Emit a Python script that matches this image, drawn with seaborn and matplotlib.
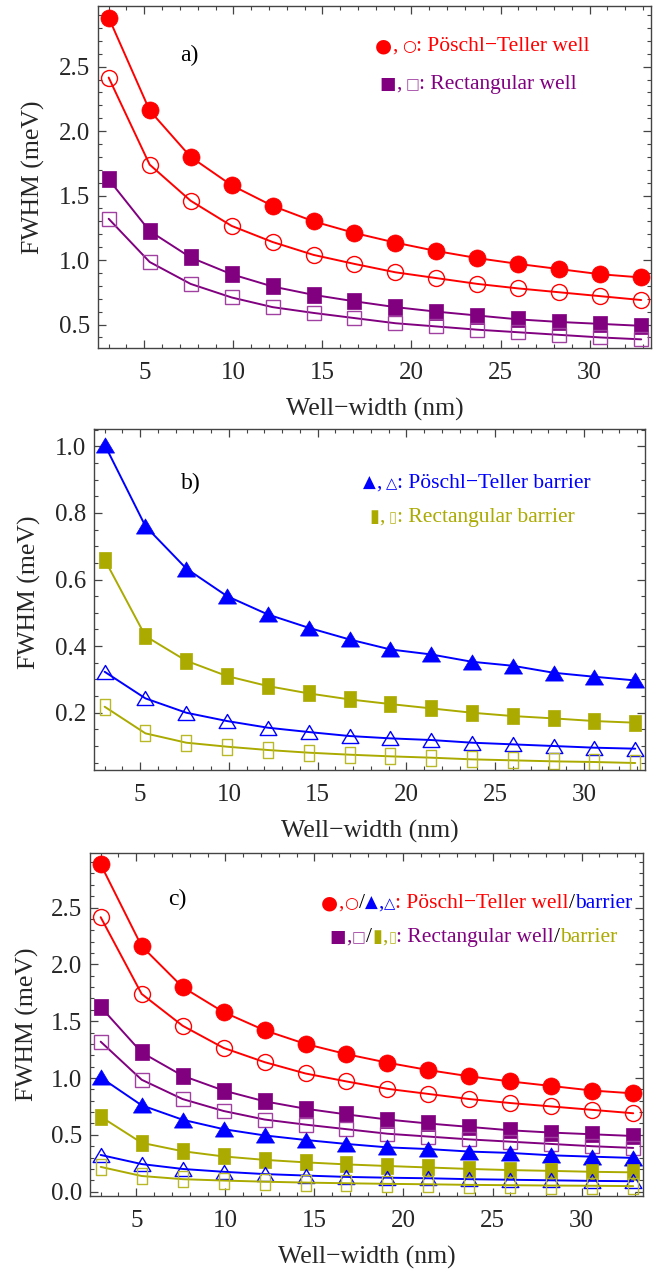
import numpy as np
import pandas as pd
import matplotlib
matplotlib.use("Agg")
import matplotlib.pyplot as plt
import seaborn as sns
from matplotlib.ticker import MultipleLocator, FixedLocator, FormatStrFormatter
from matplotlib.path import Path

# ---------------- data ----------------
well_width = [3.0, 5.3, 7.6, 9.9, 12.2, 14.5, 16.8, 19.1, 21.4, 23.7, 26.0, 28.3, 30.6, 32.9]

pt_well_filled = [2.88, 2.16, 1.80, 1.58, 1.42, 1.30, 1.21, 1.135, 1.07, 1.015, 0.97, 0.93, 0.89, 0.865]
pt_well_open = [2.415, 1.74, 1.46, 1.265, 1.14, 1.04, 0.97, 0.905, 0.86, 0.815, 0.78, 0.75, 0.72, 0.69]
rect_well_filled = [1.625, 1.225, 1.02, 0.89, 0.795, 0.73, 0.68, 0.635, 0.60, 0.57, 0.54, 0.52, 0.505, 0.49]
rect_well_open = [1.32, 0.985, 0.815, 0.71, 0.635, 0.59, 0.55, 0.51, 0.485, 0.46, 0.44, 0.42, 0.40, 0.385]

pt_barrier_filled = [1.005, 0.76, 0.633, 0.55, 0.495, 0.455, 0.42, 0.39, 0.375, 0.353, 0.341, 0.32, 0.308, 0.297]
pt_barrier_open = [0.323, 0.243, 0.20, 0.175, 0.155, 0.142, 0.13, 0.123, 0.118, 0.11, 0.105, 0.10, 0.095, 0.092]
rect_barrier_filled = [0.66, 0.43, 0.356, 0.31, 0.28, 0.258, 0.24, 0.226, 0.213, 0.20, 0.19, 0.183, 0.175, 0.17]
rect_barrier_open = [0.218, 0.138, 0.11, 0.098, 0.088, 0.08, 0.074, 0.069, 0.065, 0.06, 0.057, 0.054, 0.052, 0.049]

xticks = [5, 10, 15, 20, 25, 30]
yticks_a = [0.5, 1.0, 1.5, 2.0, 2.5]
yticks_b = [0.2, 0.4, 0.6, 0.8, 1.0]
yticks_c = [0.0, 0.5, 1.0, 1.5, 2.0, 2.5]

xlabel = "Well\u2212width (nm)"
ylabel = "FWHM (meV)"

# ---------------- style ----------------
sns.set_theme(style="ticks")
FAM = ["Liberation Serif", "DejaVu Sans"]
plt.rcParams["font.family"] = FAM

RED = "#FF0000"
PURPLE = "#800080"
LPURPLE = "#A040A0"
BLUE = "#0000FF"
OLIVE = "#AAAA00"
LOLIVE = "#B8B828"
SPINE = "#444444"

W, H = 671, 1277
fig = plt.figure(figsize=(W / 100, H / 100), dpi=100)


def px_rect(l, r, t, b):
    return [l / W, 1 - b / H, (r - l) / W, (b - t) / H]


ax_a = fig.add_axes(px_rect(98, 651, 6, 348))
ax_b = fig.add_axes(px_rect(94, 645, 429, 770))
ax_c = fig.add_axes(px_rect(90, 643, 853, 1196))


def closed(verts):
    return Path(verts + [verts[0]], closed=True)


TRI = closed([(0, 0.42), (-0.5, -0.42), (0.5, -0.42)])
SQP = closed([(-0.44, -0.5), (0.44, -0.5), (0.44, 0.5), (-0.44, 0.5)])
RECT_F = closed([(-0.35, -0.5), (0.35, -0.5), (0.35, 0.5), (-0.35, 0.5)])
RECT_O = closed([(-0.31, -0.5), (0.31, -0.5), (0.31, 0.5), (-0.31, 0.5)])

series_style = {
    "pt_well_filled": dict(lc=RED, m="o", ms=12.3, fc=RED, ec=RED, mew=0.5),
    "pt_well_open": dict(lc=RED, m="o", ms=11.5, fc="none", ec=RED, mew=1.0),
    "rect_well_filled": dict(lc=PURPLE, m=SQP, ms=11.2, fc=PURPLE, ec=PURPLE, mew=0.5),
    "rect_well_open": dict(lc=PURPLE, m="s", ms=9.5, fc="none", ec=LPURPLE, mew=1.0),
    "pt_barrier_filled": dict(lc=BLUE, m=TRI, ms=13, fc=BLUE, ec=BLUE, mew=0.5),
    "pt_barrier_open": dict(lc=BLUE, m=TRI, ms=12, fc="none", ec=BLUE, mew=1.0),
    "rect_barrier_filled": dict(lc=OLIVE, m=RECT_F, ms=12.2, fc=OLIVE, ec=OLIVE, mew=0.5),
    "rect_barrier_open": dict(lc=OLIVE, m=RECT_O, ms=11.5, fc="none", ec=LOLIVE, mew=1.0),
}
series_data = {
    "pt_well_filled": pt_well_filled,
    "pt_well_open": pt_well_open,
    "rect_well_filled": rect_well_filled,
    "rect_well_open": rect_well_open,
    "pt_barrier_filled": pt_barrier_filled,
    "pt_barrier_open": pt_barrier_open,
    "rect_barrier_filled": rect_barrier_filled,
    "rect_barrier_open": rect_barrier_open,
}


def draw_series(ax, name):
    st = series_style[name]
    df = pd.DataFrame({"x": well_width, "y": series_data[name]})
    sns.lineplot(data=df, x="x", y="y", ax=ax, color=st["lc"], linewidth=1.4,
                 marker=st["m"], markersize=st["ms"], markerfacecolor=st["fc"],
                 markeredgecolor=st["ec"], markeredgewidth=st["mew"],
                 errorbar=None, sort=False)


def style_axes(ax, yticks, yminor, ylim):
    ax.set_xlim(2.4, 33.45)
    ax.set_ylim(*ylim)
    ax.xaxis.set_major_locator(FixedLocator(xticks))
    ax.xaxis.set_minor_locator(MultipleLocator(1))
    ax.yaxis.set_major_locator(FixedLocator(yticks))
    ax.yaxis.set_minor_locator(MultipleLocator(yminor))
    ax.yaxis.set_major_formatter(FormatStrFormatter("%.1f"))
    ax.xaxis.set_major_formatter(FormatStrFormatter("%d"))
    for sp in ax.spines.values():
        sp.set_visible(True)
        sp.set_color(SPINE)
        sp.set_linewidth(1.0)
    ax.tick_params(which="both", direction="in", top=True, right=True, color=SPINE)
    ax.tick_params(which="major", length=6, width=0.9)
    ax.tick_params(which="minor", length=3, width=0.8)
    ax.tick_params(axis="x", which="major", labelsize=18, pad=10)
    ax.tick_params(axis="y", which="major", labelsize=18, pad=5.5)
    ax.set_xlabel(xlabel, fontsize=18.5)
    ax.set_ylabel(ylabel, fontsize=18.5)
    ax.xaxis.label.set_va("center")
    ax.yaxis.label.set_va("center")
    ax.xaxis.set_label_coords(0.5, -0.18)
    ax.yaxis.set_label_coords(-0.117, 0.5)
    ax.grid(False)
    ax.set_facecolor("white")


# panel a
for n in ["pt_well_filled", "pt_well_open", "rect_well_filled", "rect_well_open"]:
    draw_series(ax_a, n)
style_axes(ax_a, yticks_a, 0.1, (0.318, 2.97))

# panel b
for n in ["pt_barrier_filled", "rect_barrier_filled", "pt_barrier_open", "rect_barrier_open"]:
    draw_series(ax_b, n)
style_axes(ax_b, yticks_b, 0.05, (0.028, 1.052))
ax_b.yaxis.set_label_coords(-0.118, 0.52)

# panel c
for n in ["pt_well_filled", "pt_well_open", "rect_well_filled", "rect_well_open",
          "pt_barrier_filled", "rect_barrier_filled", "pt_barrier_open", "rect_barrier_open"]:
    draw_series(ax_c, n)
style_axes(ax_c, yticks_c, 0.1, (-0.038, 2.98))
ax_c.yaxis.set_label_coords(-0.114, 0.5)

# panel labels
for lab, (px, py) in {"a)": (189, 55), "b)": (191, 483), "c)": (177, 899)}.items():
    fig.text(px / W, 1 - py / H, lab, fontsize=17, ha="center", va="center", color="black")

# multi-colour legend texts, laid out piece by piece on a common baseline
renderer = fig.canvas.get_renderer()
MK = ["DejaVu Sans"]
TXT_SIZE = 15.5
glyph_size = {"\u25CF": 14, "\u25CB": 11.5, "\u25A0": 12.5, "\u25A1": 10.5,
              "\u25B2": 12, "\u25B3": 10.5, "\u25AE": 13, "\u25AF": 10.5}


def rich(x_px, base_px, pieces):
    x = x_px
    for txt, col, gap in pieces:
        x += gap
        if txt in glyph_size:
            t = fig.text(x / W, 1 - base_px / H, txt, color=col, fontsize=glyph_size[txt],
                         family=MK, ha="left", va="baseline")
        else:
            t = fig.text(x / W, 1 - base_px / H, txt, color=col, fontsize=TXT_SIZE,
                         family=FAM, ha="left", va="baseline")
        bb = t.get_window_extent(renderer)
        x = bb.x1


S = 4.0
rich(375, 51, [("\u25CF", RED, 0), (",", RED, 0.5), ("\u25CB", RED, S),
               (": P\u00f6schl\u2212Teller well", RED, 0)])
rich(379, 89, [("\u25A0", PURPLE, 0), (",", PURPLE, 0.5), ("\u25A1", LPURPLE, S),
               (": Rectangular well", PURPLE, 0)])

rich(363, 488, [("\u25B2", BLUE, 0), (",", BLUE, 0.5), ("\u25B3", BLUE, S),
                (": P\u00f6schl\u2212Teller barrier", BLUE, 0)])
rich(369, 522, [("\u25AE", OLIVE, 0), (",", OLIVE, 0.5), ("\u25AF", LOLIVE, S),
                (": Rectangular barrier", OLIVE, 0)])

rich(321, 908, [("\u25CF", RED, 0), (",", RED, 0.5), ("\u25CB", RED, 0.5), ("/", "black", 0.5),
                ("\u25B2", BLUE, 0), (",", BLUE, 0.5), ("\u25B3", BLUE, 0.5),
                (": P\u00f6schl\u2212Teller well", RED, 0), ("/", "black", 0), ("barrier", BLUE, 0)])
rich(329, 942, [("\u25A0", PURPLE, 0), (",", PURPLE, 0.5), ("\u25A1", LPURPLE, 0.5), ("/", "black", 0.5),
                ("\u25AE", OLIVE, 0), (",", OLIVE, 0.5), ("\u25AF", LOLIVE, 0.5),
                (": Rectangular well", PURPLE, 0), ("/", "black", 0), ("barrier", OLIVE, 0)])

fig.savefig("out.png", dpi=100, facecolor="white")
